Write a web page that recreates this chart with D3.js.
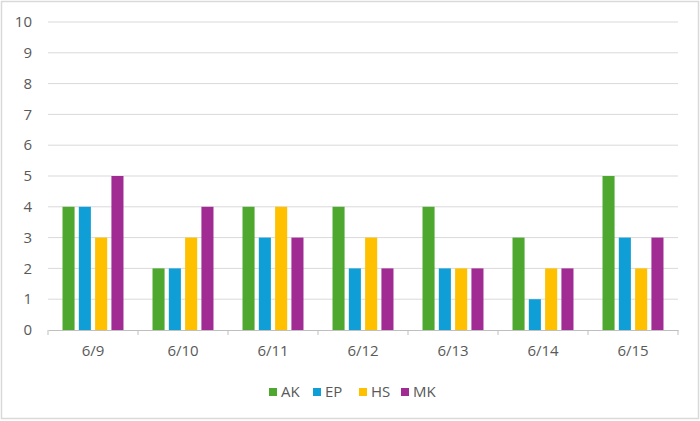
<!DOCTYPE html>
<html>
<head>
<meta charset="utf-8">
<script src="https://cdn.jsdelivr.net/npm/d3@7"></script>
<style>
  body { margin: 0; background: #fff; }
  svg { display: block; font-family: "Open Sans", sans-serif; }
</style>
</head>
<body>
<svg id="chart"></svg>
<script>
var categories = ['6/9', '6/10', '6/11', '6/12', '6/13', '6/14', '6/15'];
var seriesNames = ['AK', 'EP', 'HS', 'MK'];
var seriesColors = ['#4EA72E', '#0F9ED5', '#FFC000', '#A02B93'];
var valuesAK = [4, 2, 4, 4, 4, 3, 5];
var valuesEP = [4, 2, 3, 2, 2, 1, 3];
var valuesHS = [3, 3, 4, 3, 2, 2, 2];
var valuesMK = [5, 4, 3, 2, 2, 2, 3];
var yTicks = d3.range(0, 11);

(function() {
    'use strict';

    var WIDTH = 700, HEIGHT = 421;
    var margin = { top: 22, right: 22, bottom: 91, left: 48 };
    var series = [valuesAK, valuesEP, valuesHS, valuesMK];
    var FONT = 15;

    var svg = d3.select('#chart').attr('width', WIDTH).attr('height', HEIGHT);

    // outer frame
    svg.append('rect')
        .attr('x', 1.5).attr('y', 1.5)
        .attr('width', WIDTH - 3).attr('height', HEIGHT - 4)
        .attr('fill', '#fff')
        .attr('stroke', '#d9d9d9')
        .attr('stroke-width', 1.5);

    var x = d3.scaleBand()
        .domain(categories)
        .range([margin.left, WIDTH - margin.right]);

    var xInner = d3.scaleBand()
        .domain(seriesNames)
        .range([0, x.bandwidth()])
        .paddingInner(0.26)
        .paddingOuter(0.89);

    var y = d3.scaleLinear()
        .domain([0, 10])
        .range([HEIGHT - margin.bottom, margin.top]);

    // gridlines
    svg.append('g')
        .selectAll('line')
        .data(yTicks.slice(1))
        .enter()
        .append('line')
            .attr('x1', margin.left)
            .attr('x2', WIDTH - margin.right)
            .attr('y1', d => y(d))
            .attr('y2', d => y(d))
            .attr('stroke', '#d9d9d9')
            .attr('stroke-width', 1);

    // y labels
    svg.append('g')
        .selectAll('text')
        .data(yTicks)
        .enter()
        .append('text')
            .attr('x', 32)
            .attr('y', d => y(d))
            .attr('dy', '0.35em')
            .attr('text-anchor', 'end')
            .attr('font-size', FONT)
            .attr('fill', '#595959')
            .text(d => d);

    // bars
    var groups = svg.append('g')
        .selectAll('g')
        .data(categories)
        .enter()
        .append('g')
            .attr('transform', c => 'translate(' + x(c) + ',0)');

    groups.selectAll('rect')
        .data((c, i) => seriesNames.map((s, k) => ({ name: s, value: series[k][i], color: seriesColors[k] })))
        .enter()
        .append('rect')
            .attr('x', d => xInner(d.name))
            .attr('width', xInner.bandwidth())
            .attr('y', d => y(d.value))
            .attr('height', d => y(0) - y(d.value))
            .attr('fill', d => d.color);

    // x axis
    var xAxis = svg.append('g')
        .attr('transform', 'translate(0,' + y(0) + ')')
        .call(d3.axisBottom(x).tickSize(0).tickSizeOuter(0));
    xAxis.select('.domain').attr('stroke', '#bfbfbf');
    xAxis.selectAll('text')
        .attr('font-size', FONT)
        .attr('fill', '#595959')
        .attr('font-family', '"Open Sans", sans-serif')
        .attr('dy', '1.5em');

    // category separators
    xAxis.selectAll('.sep')
        .data(categories.concat(['end']))
        .enter()
        .append('line')
            .attr('class', 'sep')
            .attr('x1', (c, i) => margin.left + i * x.step())
            .attr('x2', (c, i) => margin.left + i * x.step())
            .attr('y1', 0)
            .attr('y2', 5)
            .attr('stroke', '#bfbfbf');

    // legend
    var legend = svg.append('g')
        .attr('transform', 'translate(269,392)');
    var items = legend.selectAll('g')
        .data(seriesNames)
        .enter()
        .append('g')
            .attr('transform', (d, i) => 'translate(' + [0, 44, 90, 132][i] + ',0)');
    items.append('rect')
        .attr('x', 0).attr('y', -4)
        .attr('width', 8).attr('height', 8)
        .attr('fill', (d, i) => seriesColors[i]);
    items.append('text')
        .attr('x', 12)
        .attr('dy', '0.35em')
        .attr('font-size', FONT)
        .attr('fill', '#595959')
        .text(d => d);
})();
</script>
</body>
</html>
